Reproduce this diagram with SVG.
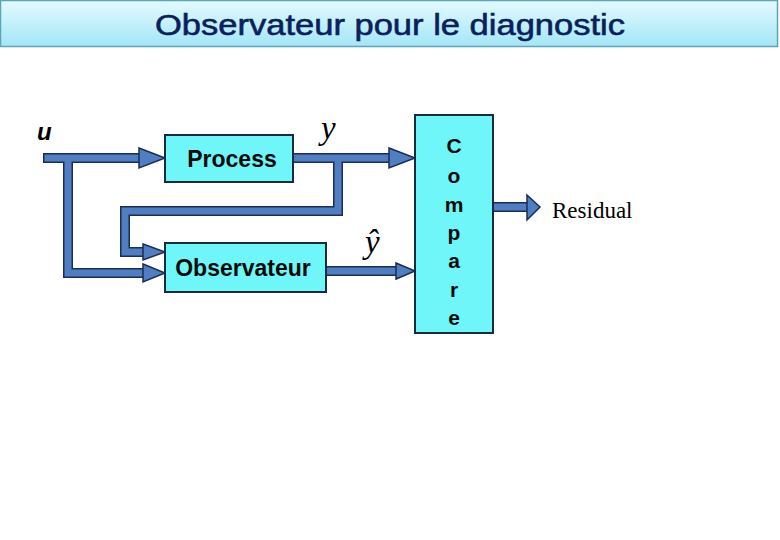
<svg xmlns="http://www.w3.org/2000/svg" width="780" height="540" viewBox="0 0 780 540">
<defs>
<linearGradient id="tg" x1="0" y1="0" x2="0" y2="1">
<stop offset="0" stop-color="#e4faff"/>
<stop offset="1" stop-color="#a2e6f6"/>
</linearGradient>
</defs>
<style>
.box{fill:#6ff6f8;stroke:#1a2a40;stroke-width:2}
.lbl{font-family:"Liberation Sans",Arial,sans-serif;font-size:23px;font-weight:bold;fill:#0a0a0a}
.cmp{font-family:"Liberation Sans",Arial,sans-serif;font-size:21px;font-weight:bold;fill:#0a0a0a}
.sh-o{fill:none;stroke:#1c2c55;stroke-width:10;stroke-linejoin:miter;stroke-linecap:butt}
.sh-i{fill:none;stroke:#4f7fc0;stroke-width:7;stroke-linejoin:miter;stroke-linecap:butt}
.hd{fill:#4f7fc0;stroke:#1c2c55;stroke-width:1.5;stroke-linejoin:miter}
.math{font-family:"Liberation Serif","Times New Roman",serif;font-style:italic;fill:#000}
</style>
<rect width="780" height="540" fill="#fff"/>
<g id="title">
<rect x="0.5" y="0.5" width="777" height="46" fill="url(#tg)" stroke="#5aa6b8" stroke-width="1.5"/>
<text x="155" y="35" font-family="Liberation Sans,Arial,sans-serif" font-size="30" fill="#0b1f5c" stroke="#0b1f5c" stroke-width="0.6" textLength="470" lengthAdjust="spacingAndGlyphs">Observateur pour le diagnostic</text>
</g>
<g id="connectors">
<path class="sh-o" d="M43,158 H140 M68,158 V273 H143 M293,158 H390 M338,158 V211 H125 V252 H143 M326,271 H396 M493,207 H528"/>
<path class="sh-i" d="M44.5,158 H141 M68,158 V273 H144 M292,158 H391 M338,158 V211 H125 V252 H144 M326,271 H397 M494,207 H529"/>
<polygon class="hd" points="139,148 165,158 139,168"/>
<polygon class="hd" points="143,264 165,273 143,282"/>
<polygon class="hd" points="143,244 165,252 143,260"/>
<polygon class="hd" points="389,148 415,158 389,168"/>
<polygon class="hd" points="396,263 415,271 396,279"/>
<polygon class="hd" points="527,195 540,207 527,220"/>
</g>
<g id="process">
<rect class="box" x="165" y="135" width="128" height="47"/>
<text class="lbl" x="232" y="167" text-anchor="middle">Process</text>
</g>
<g id="observateur">
<rect class="box" x="165" y="243" width="161" height="49"/>
<text class="lbl" x="243" y="276" text-anchor="middle">Observateur</text>
</g>
<g id="compare">
<rect class="box" x="415" y="115" width="78" height="218"/>
<g class="cmp" text-anchor="middle">
<text x="454" y="153">C</text>
<text x="454" y="183">o</text>
<text x="454" y="212">m</text>
<text x="454" y="240">p</text>
<text x="454" y="268">a</text>
<text x="454" y="297">r</text>
<text x="454" y="325">e</text>
</g>
</g>
<g id="labels">
<text x="37" y="140" font-family="Liberation Sans,Arial,sans-serif" font-weight="bold" font-style="italic" font-size="24" fill="#000">u</text>
<text class="math" x="321" y="139" font-size="33">y</text>
<text class="math" x="365" y="253" font-size="33">ŷ</text>
<text x="552" y="218" font-family="Liberation Serif,Times New Roman,serif" font-size="23" fill="#000">Residual</text>
</g>
</svg>
